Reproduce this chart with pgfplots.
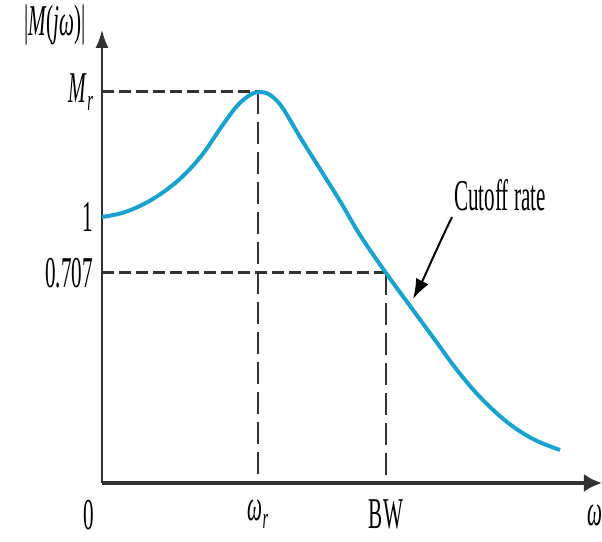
\documentclass[border=0pt]{standalone}
\usepackage{pgfplots}
\pgfplotsset{compat=1.18}
\usepackage{graphicx}
\usepackage{fontspec}
\setmainfont{Liberation Serif}
\usetikzlibrary{arrows.meta}
\definecolor{curve}{RGB}{25,162,205}
\definecolor{axgray}{RGB}{50,50,50}
\newcommand\lbl[1]{\scalebox{0.48}[1]{\fontsize{22}{25}\selectfont #1}}
\newcommand\sub[1]{\raisebox{-0.4ex}{\fontsize{15}{15}\selectfont\textit{#1}}}
\begin{document}
\begin{tikzpicture}
\path[use as bounding box] (-51pt,-29.5pt) rectangle (250pt,241.5pt);
\begin{axis}[
  at={(0,0)}, anchor=origin,
  x=0.5pt, y=0.5pt,
  xmin=0, xmax=500, ymin=0, ymax=453,
  enlargelimits=false, clip=false,
  axis lines=left,
  x axis line style={line width=2pt, color=axgray, -{Latex[length=9pt,width=9pt]}},
  y axis line style={line width=0.9pt, color=axgray, -{Latex[length=9pt,width=6.5pt]}},
  major tick length=0pt,
  xtick={156,284}, xticklabels={\lbl{\textit{ω}\sub{r}}, \lbl{BW}},
  ytick={210,266,391}, yticklabels={\lbl{0.707}, \lbl{1}, \lbl{\textit{M}\sub{r}}},
  xticklabel style={anchor=north, yshift=-5pt},
  yticklabel style={anchor=east, xshift=-1pt},
]
% dashed guide lines
\addplot[axgray, line width=1.5pt, dash pattern=on 6pt off 2.5pt] coordinates {(0,391) (156,391)};
\addplot[axgray, line width=1.1pt, dash pattern=on 11pt off 4pt] coordinates {(156,391) (156,0)};
\addplot[axgray, line width=1.5pt, dash pattern=on 6pt off 2.5pt] coordinates {(0,210) (284,210)};
\addplot[axgray, line width=1.1pt, dash pattern=on 11pt off 4pt] coordinates {(284,210) (284,0)};
% magnitude curve
\addplot[curve, line width=2pt, smooth, tension=0.6] coordinates {
(0,266) (20,270) (40,278) (60,290) (80,306) (100,328) (120,357) (135,377) (148,388)
(158,391) (168,388) (180,376) (198,346) (218,314) (238,282) (258,248)
(284,210) (311,173) (333,143) (355,113) (378,86) (405,61) (431,44) (458,33)
};
% annotations
\draw[black, line width=1pt, -{Latex[length=10pt,width=7pt]}]
  (axis cs:350,266) .. controls (axis cs:335,235) and (axis cs:322,205) .. (axis cs:311,184);
\node at (axis cs:398,288) {\lbl{Cutoff rate}};
\node at (axis cs:-47,458) {\lbl{|\textit{M}(\textit{jω})|}};
\node at (axis cs:-13,-32) {\lbl{0}};
\node at (axis cs:493,-32) {\lbl{\textit{ω}}};
\end{axis}
\end{tikzpicture}
\end{document}
